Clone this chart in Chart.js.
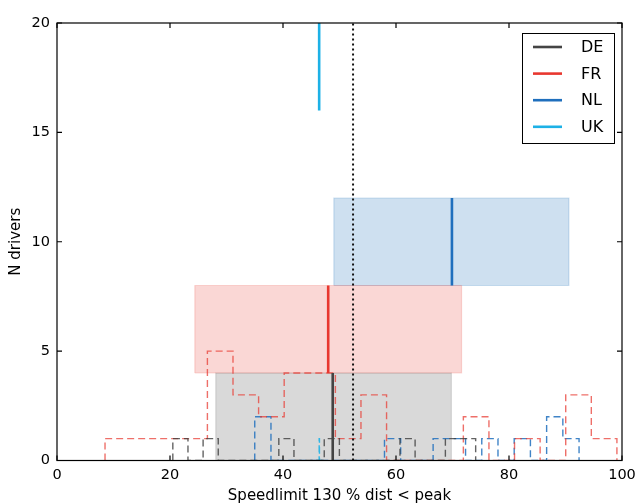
<!DOCTYPE html>
<html>
<head>
<meta charset="utf-8">
<script src="https://cdn.jsdelivr.net/npm/chart.js@4.4.1/dist/chart.umd.min.js"></script>
<style>
html,body{margin:0;padding:0;background:#ffffff;}
canvas{display:block;}
</style>
</head>
<body>
<canvas id="c" width="637" height="504"></canvas>
<script>
// ---------------- data ----------------
const countries = ['DE', 'FR', 'NL', 'UK'];
const xTicks = [0, 20, 40, 60, 80, 100];
const yTicks = [0, 5, 10, 15, 20];

// histogram bin edges and counts (step outlines)
const deEdges = [20.5, 23.18, 25.86, 28.54, 31.22, 33.9, 36.58, 39.26, 41.94, 44.62, 47.3, 49.98, 52.66, 55.34, 58.02, 60.7, 63.38, 66.06, 68.74, 71.42, 74.1];
const deCounts = [1, 0, 1, 0, 0, 0, 0, 1, 0, 0, 1, 0, 0, 0, 0, 1, 0, 0, 1, 1];
const frEdges = [8.5, 13.03, 17.56, 22.09, 26.62, 31.15, 35.68, 40.21, 44.74, 49.27, 53.8, 58.33, 62.86, 67.39, 71.92, 76.45, 80.98, 85.51, 90.04, 94.57, 99.1];
const frCounts = [1, 1, 1, 1, 5, 3, 2, 4, 4, 1, 3, 0, 0, 0, 2, 0, 1, 0, 3, 1];
const nlEdges = [35, 37.87, 40.74, 43.61, 46.48, 49.35, 52.22, 55.09, 57.96, 60.83, 63.7, 66.57, 69.44, 72.31, 75.18, 78.05, 80.92, 83.79, 86.66, 89.53, 92.4];
const nlCounts = [2, 0, 0, 0, 0, 0, 0, 0, 1, 0, 0, 1, 1, 0, 1, 0, 1, 0, 2, 1];
const ukEdges = [45.9, 46.4, 46.45, 46.9];
const ukCounts = [0, 1, 0];

// summary per country: interval box, median, row span
const boxLow = [28.1, 24.4, 49.0, 46.4];
const boxHigh = [69.8, 71.6, 90.6, 46.4];
const medians = [48.8, 48.0, 69.9, 46.4];
const rowLow = [0, 4, 8, 16];
const rowHigh = [4, 8, 12, 20];
const refValue = 52.4;

// ---------------- styles ----------------
const lineColor = { DE: '#444444', FR: '#e8372f', NL: '#1f6fbd', UK: '#1db1e6' };
const boxFill = { DE: 'rgba(0,0,0,0.15)', FR: 'rgba(232,55,47,0.2)', NL: 'rgba(10,100,180,0.2)', UK: 'rgba(29,177,230,0.2)' };
const boxEdge = { DE: 'rgba(0,0,0,0.12)', FR: 'rgba(232,55,47,0.18)', NL: 'rgba(10,100,180,0.18)', UK: 'rgba(29,177,230,0.0)' };
const histColor = { DE: 'rgba(60,60,60,0.8)', FR: 'rgba(232,55,47,0.72)', NL: 'rgba(31,111,189,0.85)', UK: 'rgba(29,177,230,0.9)' };

const histEdges = { DE: deEdges, FR: frEdges, NL: nlEdges, UK: ukEdges };
const histCounts = { DE: deCounts, FR: frCounts, NL: nlCounts, UK: ukCounts };

function stepOutline(edges, counts) {
  const pts = [{ x: edges[0], y: 0 }];
  for (let i = 0; i < counts.length; i++) {
    pts.push({ x: edges[i], y: counts[i] });
    pts.push({ x: edges[i + 1], y: counts[i] });
  }
  pts.push({ x: edges[edges.length - 1], y: 0 });
  return pts;
}

const datasets = [];
countries.forEach((c, i) => {
  if (boxHigh[i] > boxLow[i]) {
    datasets.push({
      label: c + ' box',
      data: [
        { x: boxLow[i], y: rowLow[i] }, { x: boxHigh[i], y: rowLow[i] },
        { x: boxHigh[i], y: rowHigh[i] }, { x: boxLow[i], y: rowHigh[i] },
        { x: boxLow[i], y: rowLow[i] }
      ],
      fill: 'shape',
      backgroundColor: boxFill[c],
      borderColor: boxEdge[c],
      borderWidth: 1.2,
      pointRadius: 0,
      order: 5
    });
  }
});
countries.forEach((c) => {
  datasets.push({
    label: c + ' hist',
    data: stepOutline(histEdges[c], histCounts[c]),
    fill: false,
    borderColor: histColor[c],
    borderWidth: 1.4,
    borderDash: [7, 4],
    pointRadius: 0,
    order: 3
  });
});
countries.forEach((c, i) => {
  datasets.push({
    label: c,
    data: [{ x: medians[i], y: rowLow[i] }, { x: medians[i], y: rowHigh[i] }],
    fill: false,
    borderColor: lineColor[c],
    borderWidth: 2.6,
    pointRadius: 0,
    order: 2
  });
});
datasets.push({
  label: 'reference',
  data: [{ x: refValue, y: 0 }, { x: refValue, y: 20 }],
  fill: false,
  borderColor: '#111111',
  borderWidth: 2,
  borderDash: [2, 3],
  pointRadius: 0,
  order: 1
});

const FONT = 'DejaVu Sans';

const framePlugin = {
  id: 'frame',
  afterDraw(chart) {
    const { ctx, chartArea: a, scales } = chart;
    ctx.save();
    ctx.strokeStyle = '#000';
    ctx.lineWidth = 1.2;
    // inward ticks
    const tl = 5;
    ctx.beginPath();
    xTicks.forEach(v => {
      const px = scales.x.getPixelForValue(v);
      ctx.moveTo(px, a.bottom); ctx.lineTo(px, a.bottom - tl);
      ctx.moveTo(px, a.top); ctx.lineTo(px, a.top + tl);
    });
    yTicks.forEach(v => {
      const py = scales.y.getPixelForValue(v);
      ctx.moveTo(a.left, py); ctx.lineTo(a.left + tl, py);
      ctx.moveTo(a.right, py); ctx.lineTo(a.right - tl, py);
    });
    ctx.stroke();
    ctx.strokeRect(a.left, a.top, a.right - a.left, a.bottom - a.top);

    // legend
    const lx = a.right - 100, ly = a.top + 10, lw = 92, lh = 110;
    ctx.fillStyle = '#fff';
    ctx.fillRect(lx, ly, lw, lh);
    ctx.lineWidth = 1;
    ctx.strokeStyle = '#000';
    ctx.strokeRect(lx + 0.5, ly + 0.5, lw, lh);
    ctx.font = '16px "' + FONT + '"';
    ctx.textBaseline = 'middle';
    ctx.textAlign = 'left';
    countries.forEach((c, i) => {
      const y = ly + 14 + i * 26.6;
      ctx.strokeStyle = lineColor[c];
      ctx.lineWidth = 2.6;
      ctx.beginPath();
      ctx.moveTo(lx + 11, y); ctx.lineTo(lx + 40, y);
      ctx.stroke();
      ctx.fillStyle = '#000';
      ctx.fillText(c, lx + 59, y + 1);
    });
    ctx.restore();
  }
};

new Chart(document.getElementById('c'), {
  type: 'line',
  data: { datasets },
  options: {
    responsive: false,
    animation: false,
    devicePixelRatio: 1,
    layout: { padding: { left: 0, right: 15, top: 23, bottom: 0 } },
    plugins: { legend: { display: false }, tooltip: { enabled: false } },
    elements: { line: { tension: 0 } },
    scales: {
      x: {
        type: 'linear', min: 0, max: 100,
        afterBuildTicks: s => { s.ticks = xTicks.map(v => ({ value: v })); },
        ticks: { color: '#000', font: { family: FONT, size: 14.5 }, padding: 0, maxRotation: 0 },
        grid: { display: false, drawTicks: true, tickLength: 6 },
        border: { display: false },
        title: { display: true, text: 'Speedlimit 130 % dist < peak', color: '#000', font: { family: FONT, size: 15 }, padding: { top: 0, bottom: -1 } },
        afterFit: s => { s.height = 43.5; }
      },
      y: {
        type: 'linear', min: 0, max: 20,
        afterBuildTicks: s => { s.ticks = yTicks.map(v => ({ value: v })); },
        ticks: { color: '#000', font: { family: FONT, size: 14.5 }, padding: 7 },
        grid: { display: false, drawTicks: false },
        border: { display: false },
        title: { display: true, text: 'N drivers', color: '#000', font: { family: FONT, size: 15 }, padding: { top: 7, bottom: 0 } },
        afterFit: s => { s.width = 57; }
      }
    }
  },
  plugins: [framePlugin]
});
</script>
</body>
</html>
